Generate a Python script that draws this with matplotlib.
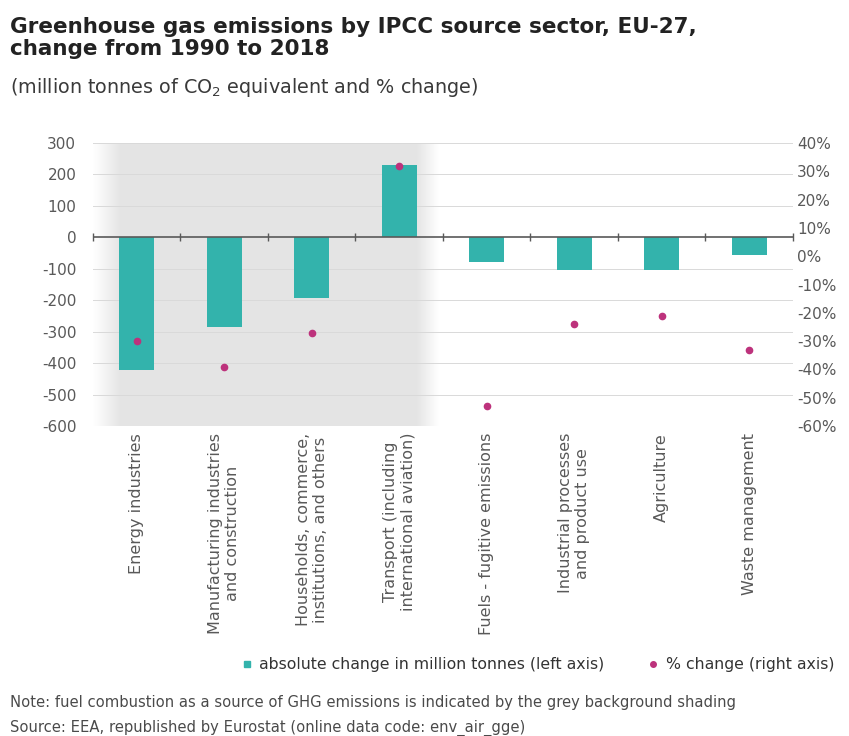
import numpy as np
import matplotlib
matplotlib.use('Agg')
import matplotlib.pyplot as plt
from matplotlib.lines import Line2D

plt.rcParams['font.family'] = ['DejaVu Sans']
plt.rcParams['axes.unicode_minus'] = False
plt.rcParams['mathtext.default'] = 'regular'

# GHG emissions by IPCC source sector, EU-27, 1990 -> 2018
sectors = ['Energy industries',
           'Manufacturing industries\nand construction',
           'Households, commerce,\ninstitutions, and others',
           'Transport (including\ninternational aviation)',
           'Fuels - fugitive emissions',
           'Industrial processes\nand product use',
           'Agriculture',
           'Waste management']
abs_change = [-422, -286, -192, 231, -79, -105, -103, -57]   # million tonnes CO2 eq.
pct_change = [-30, -39, -27, 32, -53, -24, -21, -33]         # %
n_fuel_combustion = 4  # first sectors are fuel combustion (grey shading)

left_ticks = [300, 200, 100, 0, -100, -200, -300, -400, -500, -600]
left_labels = ['300', '200', '100', '0', '-100', '-200', '-300', '-400', '-500', '-600']
right_ticks = [40, 30, 20, 10, 0, -10, -20, -30, -40, -50, -60]
right_labels = ['40%', '30%', '20%', '10%', '0%', '-10%', '-20%', '-30%', '-40%', '-50%', '-60%']

bar_col = '#33b3ac'
dot_col = '#bd327c'
txt_col = '#595959'

fig = plt.figure(figsize=(8.49, 7.36), dpi=100)
ax = fig.add_axes([0.1095, 0.4212, 0.8245, 0.3845])
ax2 = ax.twinx()

x = np.arange(len(sectors))
ax.set_xlim(-0.5, len(sectors) - 0.5)
ax.set_ylim(-600, 300)
ax2.set_ylim(-60, 40)

# grey background for fuel combustion sectors, soft edges
x0, x1 = -0.5, n_fuel_combustion - 0.55
xs = np.linspace(x0, x1, 400)
alpha = np.clip((xs - x0) / 0.32, 0, 1) * np.clip((x1 - xs) / 0.25, 0, 1)
shade = np.zeros((1, len(xs), 4))
shade[..., :3] = 0.895
shade[..., 3] = alpha
ax.imshow(shade, extent=[x0, x1, -600, 300], aspect='auto', zorder=0,
          interpolation='bilinear')

# gridlines
for t in left_ticks:
    if t != 0:
        ax.axhline(t, color='#d9d9d9', lw=0.7, zorder=1)

ax.bar(x, abs_change, width=0.4, color=bar_col, zorder=2)

# zero line with cross ticks between categories
ax.axhline(0, color='#595959', lw=1.2, zorder=3)
bounds = np.arange(-0.5, len(sectors), 1.0)
ax.plot(bounds, np.zeros_like(bounds), ls='none', marker='|', ms=6,
        mew=1, color='#595959', zorder=3, clip_on=False)

ax2.plot(x, pct_change, ls='none', marker='o', ms=4.5, color=dot_col, zorder=4)

ax.set_yticks(left_ticks, left_labels)
ax2.set_yticks(right_ticks, right_labels)
ax.set_xticks(x, sectors, rotation=90, ha='center', va='top',
              multialignment='center')
ax.tick_params(axis='x', length=0, pad=5, labelsize=11.5, labelcolor=txt_col)
ax.tick_params(axis='y', length=0, pad=12, labelsize=11, labelcolor=txt_col)
ax2.tick_params(axis='y', length=0, pad=3, labelsize=11, labelcolor=txt_col)
for a in (ax, ax2):
    for s in a.spines.values():
        s.set_visible(False)
ax.patch.set_visible(False)

fig.text(0.012, 0.977, 'Greenhouse gas emissions by IPCC source sector, EU-27,\n'
         'change from 1990 to 2018', fontsize=15.5, fontweight='bold',
         color='#222222', va='top', linespacing=1.12)
fig.text(0.012, 0.897, '(million tonnes of CO$_2$ equivalent and % change)',
         fontsize=13.8, color='#3a3a3a', va='top')

handles = [Line2D([], [], ls='none', marker='s', ms=5, color=bar_col),
           Line2D([], [], ls='none', marker='o', ms=4, color=dot_col)]
fig.legend(handles, ['absolute change in million tonnes (left axis)',
                     '% change (right axis)'],
           loc='center', bbox_to_anchor=(0.632, 0.097), ncol=2, frameon=False,
           fontsize=11.3, handletextpad=0.3, columnspacing=2.6, handlelength=1.0,
           labelcolor='#333333')

fig.text(0.012, 0.045, 'Note: fuel combustion as a source of GHG emissions is '
         'indicated by the grey background shading', fontsize=10.6,
         color='#4a4a4a', va='center')
fig.text(0.012, 0.011, 'Source: EEA, republished by Eurostat (online data code: '
         'env_air_gge)', fontsize=10.6, color='#4a4a4a', va='center')

fig.savefig('out.png', dpi=100, facecolor='white')
